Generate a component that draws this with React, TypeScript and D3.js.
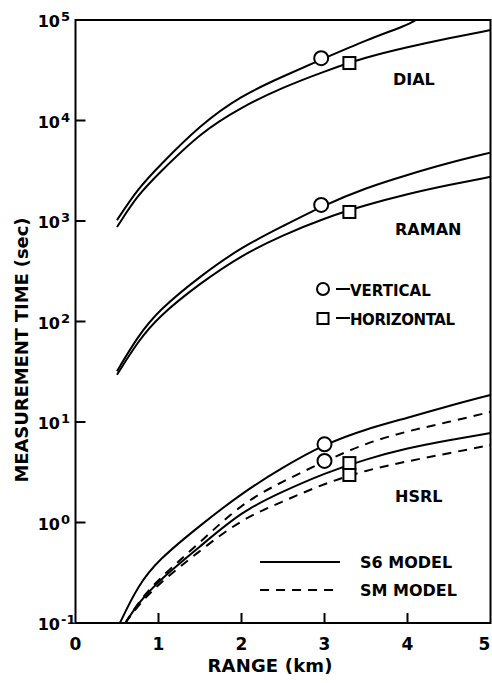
import React from "react";
import * as d3 from "d3";

// ---- data ----
const dialRange = [0.5, 0.75, 1, 1.5, 2, 2.5, 3, 3.5, 4, 4.1];
const dialVertical = [1020, 2090, 3470, 9020, 17800, 27500, 41700, 63100, 89100, 100000];
const stdRange = [0.5, 0.75, 1, 1.5, 2, 2.5, 3, 3.5, 4, 4.5, 5];
const dialHorizontal = [870, 1820, 2950, 7520, 13600, 21400, 30900, 42700, 53700, 66100, 79400];
const ramanVertical = [32, 71, 129, 282, 550, 891, 1445, 2140, 2880, 3800, 4790];
const ramanHorizontal = [29.5, 63, 112, 240, 457, 724, 1070, 1445, 1860, 2290, 2750];
const hsrlS6Range = [0.535, 0.75, 1, 1.5, 2, 2.5, 3, 3.5, 4, 4.5, 5];
const hsrlS6Vertical = [0.1, 0.234, 0.427, 0.933, 1.95, 3.55, 6.03, 8.51, 11.0, 14.5, 18.6];
const hsrlRange = [0.6, 0.75, 1, 1.5, 2, 2.5, 3, 3.5, 4, 4.5, 5];
const hsrlSMVertical = [0.1, 0.158, 0.275, 0.631, 1.55, 2.57, 4.07, 6.17, 8.13, 10.0, 12.6];
const hsrlS6Horizontal = [0.1, 0.155, 0.263, 0.575, 1.29, 2.04, 3.09, 4.27, 5.5, 6.61, 7.76];
const hsrlSMHorizontal = [0.1, 0.148, 0.245, 0.525, 1.08, 1.62, 2.45, 3.31, 4.07, 4.9, 5.89];

const circleMarks: [number, number][] = [[2.96, 41700], [2.96, 1445], [3.0, 6.0], [3.0, 4.1]];
const squareMarks: [number, number][] = [[3.3, 37300], [3.3, 1230], [3.3, 3.9], [3.3, 2.97]];

const xTicks = [0, 1, 2, 3, 4, 5];
const yTickExps = [-1, 0, 1, 2, 3, 4, 5];

const FONT = "'DejaVu Sans', sans-serif";

export default function App() {
  const left = 75.5, right = 490.5, top = 20, bottom = 623;
  const x = d3.scaleLinear().domain([0, 5]).range([left, right]);
  const y = d3.scaleLog().domain([0.1, 1e5]).range([bottom, top]);

  const line = d3
    .line<[number, number]>()
    .x((d) => x(d[0]))
    .y((d) => y(d[1]))
    .curve(d3.curveBasis);

  const zip = (xs: number[], ys: number[]) => xs.map((v, i) => [v, ys[i]] as [number, number]);

  const solid = [
    zip(dialRange, dialVertical),
    zip(stdRange, dialHorizontal),
    zip(stdRange, ramanVertical),
    zip(stdRange, ramanHorizontal),
    zip(hsrlS6Range, hsrlS6Vertical),
    zip(hsrlRange, hsrlS6Horizontal),
  ];
  const dashed = [zip(hsrlRange, hsrlSMVertical), zip(hsrlRange, hsrlSMHorizontal)];

  return (
    <svg
      width={492}
      height={683}
      style={{ position: "absolute", left: 0, top: 0, background: "#fff" }}
      fontFamily={FONT}
    >
      <rect x={0} y={0} width={492} height={683} fill="#fff" />
      <defs>
        <clipPath id="plot">
          <rect x={left} y={top} width={right - left} height={bottom - top} />
        </clipPath>
      </defs>

      {/* frame */}
      <rect x={left} y={top} width={right - left} height={bottom - top} fill="none" stroke="#000" strokeWidth={2} />

      {/* y ticks */}
      {yTickExps.map((e) => {
        const ty = y(Math.pow(10, e));
        return (
          <g key={"yt" + e}>
            <line x1={left} x2={left + 10} y1={ty} y2={ty} stroke="#000" strokeWidth={2} />
            <text x={60} y={ty + 7} textAnchor="end" fontSize={16} fontWeight="bold">10</text>
            <text x={61} y={ty + 1} textAnchor="start" fontSize={13} fontWeight="bold">{String(e)}</text>
          </g>
        );
      })}

      {/* x ticks */}
      {xTicks.map((t) => (
        <g key={"xt" + t}>
          {t > 0 && t < 5 && (
            <line x1={x(t)} x2={x(t)} y1={bottom} y2={bottom - 10} stroke="#000" strokeWidth={2} />
          )}
          <text x={t === 5 ? x(t) - 6 : x(t)} y={650} textAnchor="middle" fontSize={17} fontWeight="bold">{String(t)}</text>
        </g>
      ))}

      {/* axis titles */}
      <text x={270} y={672} textAnchor="middle" fontSize={18} fontWeight="bold" textLength={125} lengthAdjust="spacing">RANGE (km)</text>
      <text
        transform="translate(28,350) rotate(-90)"
        textAnchor="middle"
        fontSize={18}
        fontWeight="bold"
        textLength={265}
        lengthAdjust="spacing"
      >
        MEASUREMENT TIME (sec)
      </text>

      {/* curves */}
      <g clipPath="url(#plot)">
        {solid.map((d, i) => (
          <path key={"s" + i} d={line(d) || ""} fill="none" stroke="#000" strokeWidth={2} />
        ))}
        {dashed.map((d, i) => (
          <path key={"d" + i} d={line(d) || ""} fill="none" stroke="#000" strokeWidth={2} strokeDasharray="9,7" />
        ))}
      </g>

      {/* markers */}
      {circleMarks.map((m, i) => (
        <circle key={"c" + i} cx={x(m[0])} cy={y(m[1])} r={7} fill="#fff" stroke="#000" strokeWidth={2} />
      ))}
      {squareMarks.map((m, i) => (
        <rect key={"q" + i} x={x(m[0]) - 6} y={y(m[1]) - 6} width={12} height={12} fill="#fff" stroke="#000" strokeWidth={2} />
      ))}

      {/* curve labels */}
      <text x={393} y={85} fontSize={16} fontWeight="bold">DIAL</text>
      <text x={395} y={235} fontSize={16} fontWeight="bold">RAMAN</text>
      <text x={395} y={502} fontSize={16} fontWeight="bold">HSRL</text>

      {/* marker legend */}
      <circle cx={323} cy={289} r={6} fill="#fff" stroke="#000" strokeWidth={2} />
      <line x1={336} x2={350} y1={289} y2={289} stroke="#000" strokeWidth={2} />
      <text x={350} y={296} fontSize={15} fontWeight="bold">VERTICAL</text>
      <rect x={317.5} y={313} width={11} height={11} fill="#fff" stroke="#000" strokeWidth={2} />
      <line x1={336} x2={350} y1={318} y2={318} stroke="#000" strokeWidth={2} />
      <text x={350} y={325} fontSize={15} fontWeight="bold" textLength={105} lengthAdjust="spacing">HORIZONTAL</text>

      {/* model legend */}
      <line x1={260} x2={340} y1={562} y2={562} stroke="#000" strokeWidth={2} />
      <text x={360} y={568} fontSize={16} fontWeight="bold">S6 MODEL</text>
      <line x1={260} x2={340} y1={590} y2={590} stroke="#000" strokeWidth={2} strokeDasharray="9,7" />
      <text x={360} y={596} fontSize={16} fontWeight="bold">SM MODEL</text>
    </svg>
  );
}
